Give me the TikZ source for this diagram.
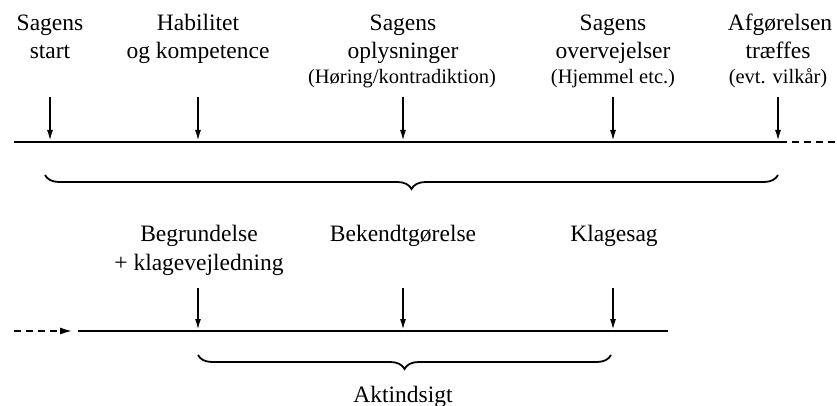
\documentclass[tikz,border=0pt]{standalone}
\usepackage{fontspec}
\setmainfont{Liberation Serif}
\usetikzlibrary{arrows.meta,decorations.pathreplacing}
\begin{document}
\begin{tikzpicture}[x=1pt,y=-1pt,
  lbl/.style={inner sep=0pt,anchor=base,font=\fontsize{23.5}{28}\selectfont},
  sml/.style={inner sep=0pt,anchor=base,font=\fontsize{20.5}{24}\selectfont},
  axis/.style={line width=2.2pt},
  tick/.style={line width=1.8pt,-{Latex[length=11pt,width=6pt]}},
  brc/.style={line width=1.8pt,decorate,decoration={brace,mirror,amplitude=14pt}},
  dsh/.style={line width=2.2pt,dash pattern=on 7pt off 5pt}]
\useasboundingbox (0,0) rectangle (837,406);

% ---- top row labels
\node[lbl] (s1a) at (50,31) {Sagens};
\node[lbl] (s1b) at (50,59) {start};
\node[lbl] (s2a) at (198,31) {Habilitet};
\node[lbl] (s2b) at (198,59) {og kompetence};
\node[lbl] (s3a) at (403,31) {Sagens};
\node[lbl] (s3b) at (403,59) {oplysninger};
\node[sml] (s3c) at (402,84) {(Høring/kontradiktion)};
\node[lbl] (s4a) at (613,31) {Sagens};
\node[lbl] (s4b) at (613,59) {overvejelser};
\node[sml] (s4c) at (613,84) {(Hjemmel etc.)};
\node[lbl] (s5a) at (780,31) {Afgørelsen};
\node[lbl] (s5b) at (778,59) {træffes};
\node[sml] (s5c) at (778,84) {(evt. vilkår)};

% ---- top line
\coordinate (L1a) at (14,142);
\coordinate (L1b) at (780,142);
\coordinate (L1c) at (837,142);
\draw[axis] (L1a) -- (L1b);
\draw[dsh] (L1b) -- (L1c);

\foreach \i/\x in {1/50,2/198,3/403,4/613,5/778}{
  \coordinate (ta\i) at (\x,97);
  \coordinate (tb\i) at (\x,141);
  \draw[tick] (ta\i) -- (tb\i);
}

% ---- top brace
\coordinate (B1a) at (45,175);
\coordinate (B1b) at (778,175);
\draw[brc] (B1a) -- (B1b);

% ---- bottom row labels
\node[lbl] (u1a) at (199,241) {Begrundelse};
\node[lbl] (u1b) at (199,270) {+ klagevejledning};
\node[lbl] (u2a) at (403,241) {Bekendtgørelse};
\node[lbl] (u3a) at (614,241) {Klagesag};

% ---- bottom line
\coordinate (L2s) at (14,331);
\coordinate (L2t) at (73,331);
\coordinate (L2a) at (78,331);
\coordinate (L2b) at (668,331);
\draw[dsh,-{Latex[length=13pt,width=7pt]}] (L2s) -- (L2t);
\draw[axis] (L2a) -- (L2b);

\foreach \i/\x in {1/198,2/403,3/613}{
  \coordinate (ba\i) at (\x,288);
  \coordinate (bb\i) at (\x,330);
  \draw[tick] (ba\i) -- (bb\i);
}

% ---- bottom brace
\coordinate (B2a) at (198,355);
\coordinate (B2b) at (611,355);
\draw[brc] (B2a) -- (B2b);
\node[lbl] (akt) at (403,402) {Aktindsigt};
\end{tikzpicture}
\end{document}
